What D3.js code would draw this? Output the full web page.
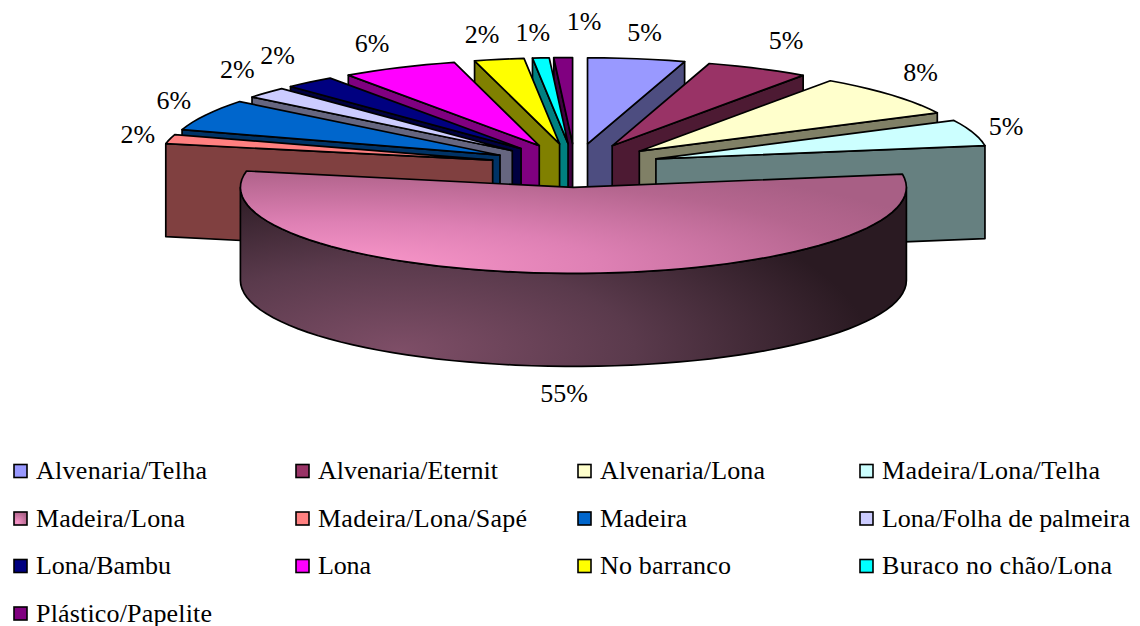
<!DOCTYPE html>
<html><head><meta charset="utf-8">
<script src="https://cdnjs.cloudflare.com/ajax/libs/d3/7.8.5/d3.min.js"></script>
<style>html,body{margin:0;padding:0;background:#fff}svg{display:block}text{font-family:"Liberation Serif","Times New Roman",serif;fill:#000}</style>
</head><body><svg id="c" width="1140" height="626"></svg>
<script>
const categories=["Alvenaria/Telha","Alvenaria/Eternit","Alvenaria/Lona","Madeira/Lona/Telha","Madeira/Lona","Madeira/Lona/Sapé","Madeira","Lona/Folha de palmeira","Lona/Bambu","Lona","No barranco","Buraco no chão/Lona","Plástico/Papelite"];
const values=[4.7,5.0,7.9,4.9,55.4,1.75,5.9,2.1,2.45,5.6,2.4,0.8,0.9];
const topColors=["#9999FF","#993366","#FFFFCC","#CCFFFF","url(#mlTop)","#FF8080","#0066CC","#CCCCFF","#000080","#FF00FF","#FFFF00","#00FFFF","#800080"];
const sideColors=["#4D4D80","#4D1A33","#808066","#668080","url(#mlSide)","#804040","#003366","#666680","#000040","#800080","#808000","#008080","#400040"];
const swatchColors=["#9999FF","#993366","#FFFFCC","#CCFFFF","url(#mlSwatch)","#FF8080","#0066CC","#CCCCFF","#000080","#FF00FF","#FFFF00","#00FFFF","#800080"];
const labelOffsets=[[8,-27],[28,-28],[29,-23],[33,-7],[-3,27],[-32,-5],[-32,-15],[-29,-24],[-32,-27],[-27,-25],[-17,-25],[-8,-26],[21,-37]];
const legendWidths=[171,180,165,218,149,209,87,248,135,53,131,230,176];

const W=1140,H=626,depth=93,explode=0.255;
const svg=d3.select("#c");
const sx=d3.scaleLinear().domain([-1,1]).range([575-333,575+333]);
const sy=d3.scaleLinear().domain([-1,1]).range([165.5-86,165.5+86]);
const line=d3.line();
const TAU=2*Math.PI;
const arcs=d3.pie().sort(null).value(d=>d).startAngle(0).endAngle(TAU)(values);

const defs=svg.append("defs");
function grad(id,t,stops,attrs){
  const g=defs.append("radialGradient").attr("id",id);
  if(t) g.attr("gradientUnits","userSpaceOnUse").attr("cx",0).attr("cy",0).attr("r",1).attr("gradientTransform",t);
  if(attrs) Object.entries(attrs).forEach(([k,v])=>g.attr(k,v));
  stops.forEach(s=>g.append("stop").attr("offset",s[0]).attr("stop-color",s[1]));
}
grad("mlTop","translate(345,268) scale(640,115)",[[0,"#FB98CB"],[.4,"#DE80B4"],[.8,"#B5668F"],[1,"#A85F85"]]);
grad("mlSide","translate(400,350) scale(470,175)",[[0,"#7E4E67"],[.5,"#5A3A4C"],[1,"#2A1A22"]]);
grad("mlSwatch",null,[[0,"#F996CA"],[1,"#A85F85"]],{cx:.25,cy:.8,r:.9});

function unitAt(a){return [Math.sin(a),-Math.cos(a)];}
function place(d,a,r){
  const mid=(d.startAngle+d.endAngle)/2,u=unitAt(a),e=unitAt(mid);
  return [sx(e[0]*explode+u[0]*r),sy(e[1]*explode+u[1]*r)];
}
function arcPts(d,a0,a1){
  const n=Math.max(2,Math.ceil(Math.abs(a1-a0)/0.05));
  return d3.range(n+1).map(i=>place(d,a0+(a1-a0)*i/n,1));
}
const down=p=>[p[0],p[1]+depth];
const g=svg.append("g").attr("stroke","#000").attr("stroke-width",1.7).attr("stroke-linejoin","round");
const order=arcs.slice().sort((a,b)=>{
  const m=d=>Math.abs((d.startAngle+d.endAngle)/2-Math.PI);
  return m(b)-m(a);
});
order.forEach(d=>{
  const i=d.index,apex=place(d,0,0),s=d.startAngle,e=d.endAngle;
  const faces=[];
  if(e<Math.PI){const p=place(d,e,1);faces.push([apex,p,down(p),down(apex)]);}
  if(s>Math.PI){const p=place(d,s,1);faces.push([apex,p,down(p),down(apex)]);}
  const w0=Math.max(s,Math.PI/2),w1=Math.min(e,3*Math.PI/2);
  if(w1>w0){const a=arcPts(d,w0,w1);faces.push(a.concat(a.map(down).reverse()));}
  faces.forEach(f=>g.append("path").attr("d",line(f)+"Z").attr("fill",sideColors[i]));
  g.append("path").attr("d",line([apex].concat(arcPts(d,s,e)))+"Z").attr("fill",topColors[i]);
});

// percentage labels
svg.append("g").selectAll("text").data(arcs).join("text")
 .attr("font-size",26).attr("text-anchor","middle")
 .attr("x",d=>{const a=place(d,(d.startAngle+d.endAngle)/2,1);return a[0]+labelOffsets[d.index][0];})
 .attr("y",d=>{const a=place(d,(d.startAngle+d.endAngle)/2,1);const b=d.index===4?depth:0;return a[1]+b+labelOffsets[d.index][1]+9;})
 .text(d=>Math.round(d.data)+"%");

// legend
const col=d3.scaleLinear().domain([0,1]).range([14,296]);
const row=d3.scaleLinear().domain([0,1]).range([471,518.5]);
const leg=svg.append("g").selectAll("g").data(categories).join("g")
 .attr("transform",(d,i)=>`translate(${col(i%4)},${row(Math.floor(i/4))})`);
leg.append("rect").attr("x",0).attr("y",-6.5).attr("width",13).attr("height",13)
 .attr("fill",(d,i)=>swatchColors[i]).attr("stroke","#000").attr("stroke-width",1.6);
leg.append("text").attr("x",22).attr("y",8).attr("font-size",26)
 .attr("textLength",(d,i)=>legendWidths[i]).attr("lengthAdjust","spacing").text(d=>d);
</script></body></html>
